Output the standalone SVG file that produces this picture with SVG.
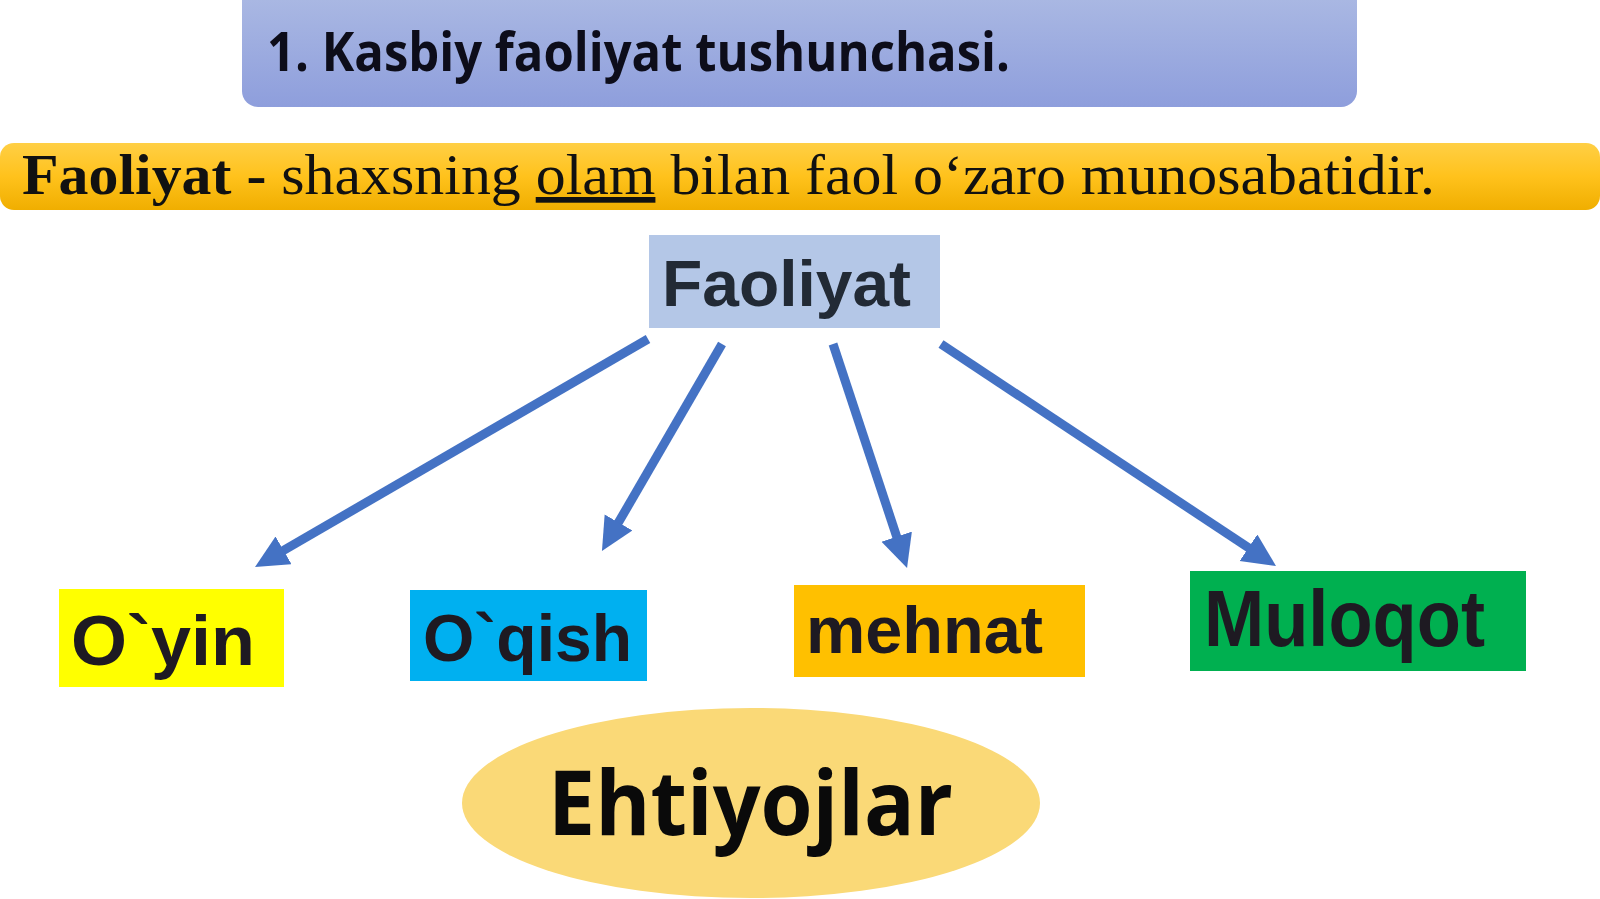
<svg xmlns="http://www.w3.org/2000/svg" width="1600" height="899" viewBox="0 0 1600 899">
<defs>
<linearGradient id="gTitle" x1="0" y1="0" x2="0" y2="1">
<stop offset="0" stop-color="#aebce4"/>
<stop offset="1" stop-color="#8e9edc"/>
</linearGradient>
<linearGradient id="gBanner" x1="0" y1="0" x2="0" y2="1">
<stop offset="0" stop-color="#ffcf45"/>
<stop offset="0.5" stop-color="#ffc21c"/>
<stop offset="1" stop-color="#f0ae00"/>
</linearGradient>
<marker id="ah" markerUnits="userSpaceOnUse" markerWidth="36" markerHeight="34" refX="1" refY="16" orient="auto">
<path d="M0,0 L33,16 L0,32 Z" fill="#4472c4"/>
</marker>
</defs>
<style>
.lbl{font-family:"Liberation Sans",Arial,sans-serif;font-weight:bold;fill:#1e1a22}
.conn line{stroke:#4472c4;stroke-width:9;marker-end:url(#ah)}
</style>
<rect width="1600" height="899" fill="#ffffff"/>

<g id="title">
<rect x="242" y="-20" width="1115" height="127" rx="16" fill="url(#gTitle)"/>
<text x="267" y="71" font-family="'Open Sans','Liberation Sans',sans-serif" font-weight="bold" font-size="54" fill="#0d0d1a" textLength="743" lengthAdjust="spacingAndGlyphs">1. Kasbiy faoliyat tushunchasi.</text>
</g>

<g id="definition">
<rect x="0" y="143" width="1600" height="67" rx="14" fill="url(#gBanner)"/>
<text x="22" y="194" font-family="'Liberation Serif','Times New Roman',serif" font-size="57" fill="#111111" textLength="1413" lengthAdjust="spacingAndGlyphs"><tspan font-weight="bold">Faoliyat - </tspan>shaxsning <tspan text-decoration="underline">olam</tspan> bilan faol o‘zaro munosabatidir.</text>
</g>

<g id="node-faoliyat">
<rect x="649" y="235" width="291" height="93" fill="#b4c7e7"/>
<text class="lbl" x="662" y="306" font-size="65" style="fill:#222a35" textLength="249" lengthAdjust="spacingAndGlyphs">Faoliyat</text>
</g>

<g id="connectors" class="conn">
<line x1="648" y1="339" x2="282.7" y2="550.9"/>
<line x1="722" y1="344" x2="618" y2="523.3"/>
<line x1="833" y1="344" x2="897" y2="537.6"/>
<line x1="941" y1="344" x2="1249.3" y2="548.3"/>
</g>

<g id="node-oyin">
<rect x="59" y="589" width="225" height="98" fill="#ffff00"/>
<text class="lbl" x="71" y="665" font-size="71" textLength="184" lengthAdjust="spacingAndGlyphs">O`yin</text>
</g>

<g id="node-oqish">
<rect x="410" y="590" width="237" height="91" fill="#00b0f0"/>
<text class="lbl" x="423" y="661" font-size="67" textLength="209" lengthAdjust="spacingAndGlyphs">O`qish</text>
</g>

<g id="node-mehnat">
<rect x="794" y="585" width="291" height="92" fill="#ffc000"/>
<text class="lbl" x="806" y="653" font-size="67" textLength="237" lengthAdjust="spacingAndGlyphs">mehnat</text>
</g>

<g id="node-muloqot">
<rect x="1190" y="571" width="336" height="100" fill="#00b050"/>
<text class="lbl" x="1204" y="646" font-size="80" textLength="281" lengthAdjust="spacingAndGlyphs">Muloqot</text>
</g>

<g id="node-ehtiyojlar">
<ellipse cx="751" cy="803" rx="289" ry="95" fill="#fad977"/>
<text x="548" y="835" font-family="'Open Sans','Liberation Sans',sans-serif" font-weight="bold" font-size="90" fill="#0a0a0a" textLength="405" lengthAdjust="spacingAndGlyphs">Ehtiyojlar</text>
</g>
</svg>
